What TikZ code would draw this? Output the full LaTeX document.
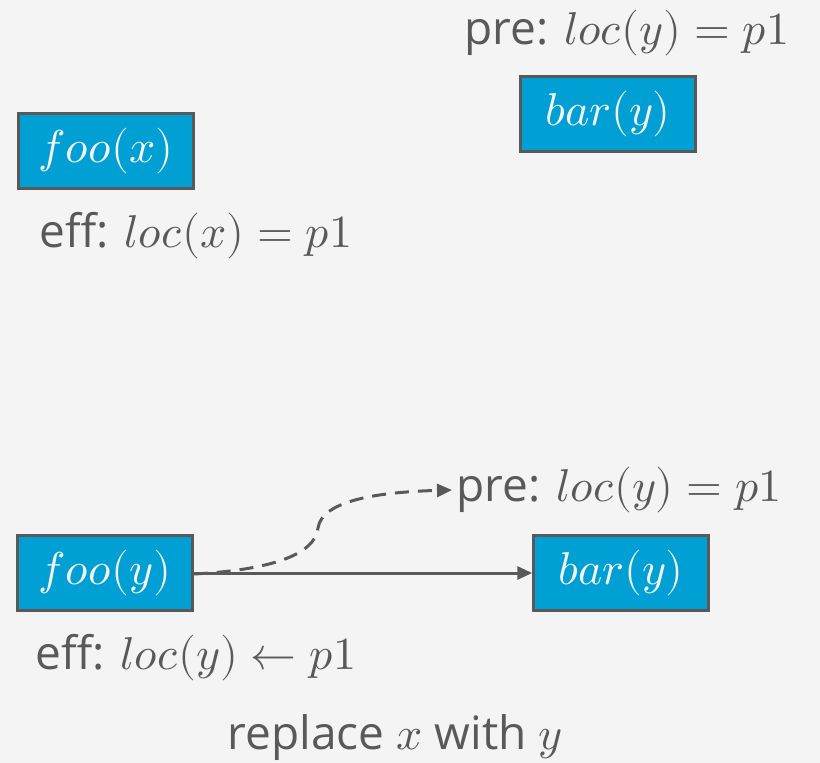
\documentclass[tikz,border=0pt]{standalone}
\usepackage{amsmath}
\usepackage{unicode-math}
\setmainfont{Open Sans}
\setmathfont{Latin Modern Math}
\usetikzlibrary{arrows.meta}
\definecolor{bg}{HTML}{F4F4F4}
\definecolor{ink}{HTML}{595959}
\definecolor{boxblue}{HTML}{009FD4}

\begin{document}
\begin{tikzpicture}[x=1pt,y=-1pt,line width=3pt,font=\fontsize{46}{52}\selectfont,
  text=ink,
  blk/.style={draw=ink,fill=boxblue,line width=2.5pt,text=bg,minimum width=175pt,minimum height=75pt,inner sep=0pt},
  tip/.style={-{Triangle[length=15pt,width=13pt]}}]
\fill[bg] (0,0) rectangle (820,763);
\useasboundingbox (0,0) rectangle (820,763);
% top
\node[blk] (fx) at (106,151) {$foo(x)$};
\node[blk] (by1) at (608,114) {$bar(y)$};
\node (pre1) at (627,33) {pre: $loc(y)=p1$};
\node (eff1) at (196,236) {eff: $loc(x)=p1$};
% bottom
\node[blk] (fy) at (105,573) {$foo(y)$};
\node[blk] (by2) at (621,573) {$bar(y)$};
\node[anchor=west,inner sep=3pt] (pre2) at (452,490) {pre: $loc(y)=p1$};
\node (eff2) at (196,658) {eff: $loc(y)\leftarrow p1$};
\node (rep) at (395,738) {replace $x$ with $y$};
\draw[ink,tip] (fy.east)--(by2.west);
\draw[ink,tip,dash pattern=on 14pt off 9pt] ([yshift=-1pt]fy.east) .. controls (270,570) and (315,555) .. (318,528)
  .. controls (322,500) and (380,492) .. (pre2.west);
\end{tikzpicture}
\end{document}
